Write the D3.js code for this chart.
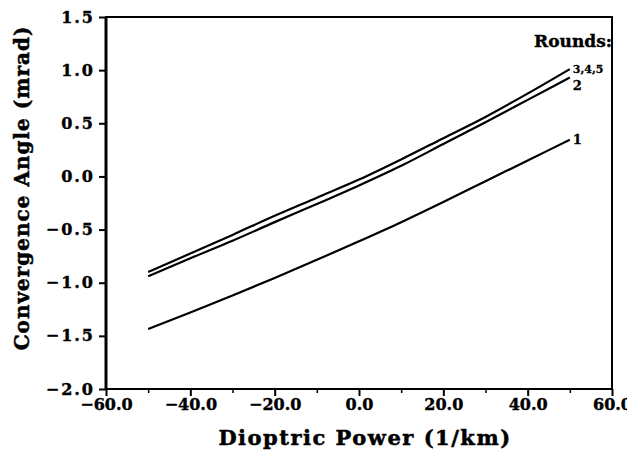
<!DOCTYPE html>
<html>
<head>
<meta charset="utf-8">
<script src="https://cdn.jsdelivr.net/npm/d3@7"></script>
<style>
  body { margin: 0; background: #fff; }
  text { font-family: "DejaVu Serif", "Liberation Serif", serif; font-weight: bold; fill: #000; }
</style>
</head>
<body>
<div id="chart"></div>
<script>
// Data
const power = [-50, -40, -30, -20, -10, 0, 10, 20, 30, 40, 50];
const round1 = [-1.435, -1.28, -1.12, -0.955, -0.785, -0.61, -0.43, -0.24, -0.045, 0.15, 0.345];
const round2 = [-0.94, -0.77, -0.605, -0.43, -0.26, -0.085, 0.10, 0.305, 0.51, 0.72, 0.93];
const round345 = [-0.90, -0.725, -0.55, -0.37, -0.20, -0.03, 0.16, 0.36, 0.56, 0.78, 1.01];
const seriesNames = ["1", "2", "3,4,5"];
const xTicks = [-60, -40, -20, 0, 20, 40, 60];
const xMinorTicks = [-50, -30, -10, 10, 30, 50];
const yTicks = [-2.0, -1.5, -1.0, -0.5, 0.0, 0.5, 1.0, 1.5];

const series = [round1, round2, round345].map((vals, i) => ({
    name: seriesNames[i],
    points: power.map((p, j) => ({x: p, y: vals[j]}))
}));

// Dimensions
const W = 627, H = 452;
const margin = {top: 17, right: 15, bottom: 63, left: 106},
    width = W - margin.left - margin.right,
    height = H - margin.top - margin.bottom;

const svg = d3.select("#chart").append("svg")
    .attr("width", W)
    .attr("height", H);

const g = svg.append("g")
    .attr("transform", "translate(" + margin.left + "," + margin.top + ")");

// Scales
const xScale = d3.scaleLinear().domain([-60, 60]).range([0, width]);
const yScale = d3.scaleLinear().domain([-2, 1.5]).range([height, 0]);

// Minor x ticks
g.append("g")
    .attr("transform", "translate(0," + height + ")")
    .call(d3.axisBottom(xScale).tickValues(xMinorTicks).tickSize(4).tickFormat(""))
    .call(a => a.select(".domain").remove())
    .selectAll("line").attr("stroke-width", 1.5);

// X axis
const xAxis = g.append("g")
    .attr("transform", "translate(0," + height + ")")
    .call(d3.axisBottom(xScale).tickValues(xTicks).tickSize(7).tickPadding(3)
        .tickFormat(d3.format(".1f")));
xAxis.select(".domain").remove();
xAxis.selectAll("line").attr("stroke-width", 2);
xAxis.selectAll("text")
    .style("font-size", "16px")
    .attr("stroke", "#000").attr("stroke-width", 0.4);

// Y axis
const yAxis = g.append("g")
    .call(d3.axisLeft(yScale).tickValues(yTicks).tickSize(7).tickPadding(4)
        .tickFormat(d3.format(".1f")));
yAxis.select(".domain").remove();
yAxis.selectAll("line").attr("stroke-width", 2);
yAxis.selectAll("text")
    .style("font-size", "16px")
    .attr("letter-spacing", "2px")
    .attr("stroke", "#000").attr("stroke-width", 0.4);

// Frame
g.append("rect")
    .attr("width", width)
    .attr("height", height)
    .attr("fill", "none")
    .attr("stroke", "#000")
    .attr("stroke-width", 2);
g.append("line")
    .attr("x1", 0).attr("x2", 0).attr("y1", 0).attr("y2", height)
    .attr("stroke", "#000").attr("stroke-width", 3);

// Lines
const line = d3.line()
    .x(d => xScale(d.x))
    .y(d => yScale(d.y))
    .curve(d3.curveMonotoneX);

g.selectAll(".series")
    .data(series)
    .enter().append("path")
    .attr("class", "series")
    .attr("d", d => line(d.points))
    .attr("fill", "none")
    .attr("stroke", "#000")
    .attr("stroke-width", 2.2);

// End labels
const labelShift = {"1": 4, "2": 12, "3,4,5": 4};
const labelSize = {"1": "13px", "2": "13px", "3,4,5": "11px"};
g.selectAll(".endlabel")
    .data(series)
    .enter().append("text")
    .attr("class", "endlabel")
    .attr("x", d => xScale(d.points[d.points.length - 1].x) + 3)
    .attr("y", d => yScale(d.points[d.points.length - 1].y) + labelShift[d.name])
    .style("font-size", d => labelSize[d.name])
    .attr("stroke", "#000").attr("stroke-width", 0.3)
    .text(d => d.name);

g.append("text")
    .attr("x", width)
    .attr("y", 30)
    .attr("text-anchor", "end")
    .style("font-size", "17px")
    .attr("stroke", "#000").attr("stroke-width", 0.4)
    .text("Rounds:");

// Axis titles
svg.append("text")
    .attr("x", 365)
    .attr("y", 445)
    .attr("text-anchor", "middle")
    .attr("letter-spacing", "1.5px")
    .style("font-size", "21px")
    .attr("stroke", "#000").attr("stroke-width", 0.5)
    .text("Dioptric Power (1/km)");

svg.append("text")
    .attr("transform", "translate(29,188) rotate(-90)")
    .attr("text-anchor", "middle")
    .attr("letter-spacing", "1px")
    .style("font-size", "20px")
    .attr("stroke", "#000").attr("stroke-width", 0.5)
    .text("Convergence Angle (mrad)");
</script>
</body>
</html>
